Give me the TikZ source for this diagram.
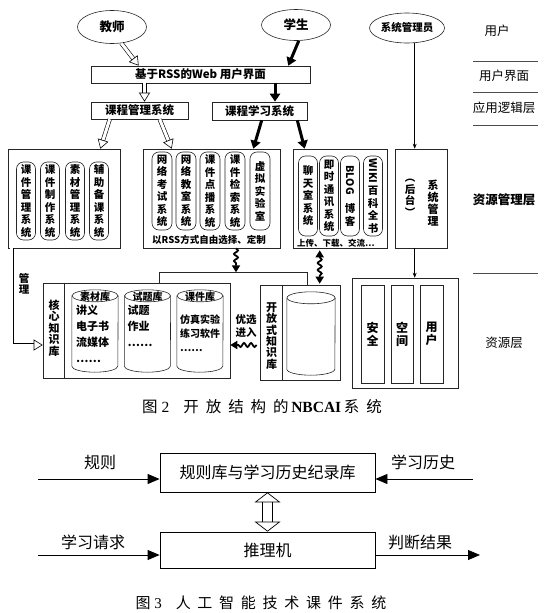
\documentclass[tikz,border=0pt]{standalone}
\usepackage{fontspec}
\setmainfont{Liberation Serif}
\newfontfamily\hei{Noto Sans CJK SC}
\newfontfamily\song[LetterSpace=45]{Noto Sans CJK SC}
\usetikzlibrary{arrows.meta,positioning,calc,shapes.geometric,decorations.pathmorphing}

\tikzset{
  gbox/.style={draw=black!85, line width=0.6pt, inner sep=0pt},
  tbox/.style={gbox, font=\hei\bfseries\fontsize{11.5}{13}\selectfont},
  person/.style={ellipse, draw=black!85, line width=0.6pt, inner sep=0pt, font=\hei\bfseries\fontsize{12.5}{14}\selectfont},
  pill/.style={draw=black!85, line width=0.6pt, rounded corners=7pt, minimum width=19pt, minimum height=78pt, inner sep=0pt, align=center, font=\hei\bfseries\fontsize{10.5}{12.5}\selectfont},
  vtxt/.style={align=center, inner sep=0pt, font=\hei\bfseries\fontsize{10.5}{11.5}\selectfont},
  lay/.style={inner sep=0pt, font=\hei\fontsize{12.5}{14}\selectfont},
  dbslot/.style={minimum width=46pt, minimum height=82pt, inner sep=0pt},
  dbtop/.style={inner sep=0pt, font=\hei\bfseries\fontsize{10}{11}\selectfont},
  dblist/.style={anchor=north west, align=left, inner sep=0pt, font=\hei\bfseries\fontsize{11}{16}\selectfont},
  hollow/.style={double=white, double distance=3pt, line width=0.6pt, -{Triangle[open,length=9pt,width=11pt]}},
  heavy/.style={line width=3pt, -{Triangle[length=8pt,width=10pt]}},
  wavy/.style={line width=1.8pt, decorate, decoration={snake, amplitude=2pt, segment length=7pt, post length=7pt}, -{Triangle[length=7pt,width=8pt]}},
  wavytwo/.style={line width=1.8pt, decorate, decoration={snake, amplitude=2pt, segment length=7pt, pre length=7pt, post length=7pt}, {Triangle[length=7pt,width=8pt]}-{Triangle[length=7pt,width=8pt]}},
  thinarr/.style={line width=0.6pt, -{Stealth[length=5pt,width=4pt]}},
  blk/.style={draw, line width=0.8pt, minimum width=215pt, inner sep=0pt, font=\hei\fontsize{16}{18}\selectfont},
  flow/.style={line width=0.8pt, -{Triangle[length=12pt,width=10pt]}},
  twoway/.style={double=white, double distance=9pt, line width=0.7pt, {Triangle[open,length=10pt,width=26pt]}-{Triangle[open,length=10pt,width=26pt]}},
  lbl/.style={inner sep=0pt, font=\hei\fontsize{16}{18}\selectfont}
}

% drum outline round a placeholder node: #1 node, #2 half width
\newcommand{\dbdrum}[2]{%
  \draw[line width=0.6pt, black!85] ($(#1.north west)+(0,6)$) -- ($(#1.south west)+(0,-6)$)
    arc[start angle=180, end angle=0, x radius=#2, y radius=6] -- ($(#1.north east)+(0,6)$);
  \draw[line width=0.6pt, black!85] ($(#1.north)+(0,6)$) ellipse [x radius=#2, y radius=6];
}

\begin{document}
\begin{tikzpicture}[x=1pt,y=-1pt]
\useasboundingbox (0,0) rectangle (550,613);

% users
\node[person, minimum width=69pt, minimum height=33pt] (teacher) at (112,27) {教师};
\node[person, minimum width=69pt, minimum height=31pt] (student) at (296,25) {学生};
\node[person, minimum width=75pt, minimum height=30pt, font=\hei\bfseries\fontsize{10.5}{12}\selectfont] (admin) at (407,28) {系统管理员};

% interface and logic
\node[tbox, minimum width=219pt, minimum height=17pt] (web) at (200.5,74.5) {基于RSS的Web 用户界面};
\node[tbox, minimum width=97pt, minimum height=17pt] (cms) at (139.5,110.5) {课程管理系统};
\node[tbox, minimum width=95pt, minimum height=18pt] (cls) at (259.5,111) {课程学习系统};

% resource management
\node[gbox, minimum width=112pt, minimum height=99pt] (lbox) at (64,198.5) {};
\node[gbox, minimum width=137pt, minimum height=99pt] (mbox) at (211.5,198.5) {};
\node[gbox, minimum width=94pt, minimum height=99pt] (rbox) at (340,198.5) {};
\node[gbox, minimum width=52pt, minimum height=99pt] (sbox) at (421,198.5) {};

\node[pill] (kjgl) at (26,201) {课\\件\\管\\理\\系\\统};
\node[pill] (kjzz) at (50,201) {课\\件\\制\\作\\系\\统};
\node[pill] (scgl) at (75,201) {素\\材\\管\\理\\系\\统};
\node[pill] (fzbk) at (99,201) {辅\\助\\备\\课\\系\\统};

\node[pill, minimum width=20pt] (wlks) at (162,191) {网\\络\\考\\试\\系\\统};
\node[pill, minimum width=20pt] (wljs) at (186,191) {网\\络\\教\\室\\系\\统};
\node[pill, minimum width=20pt] (kjdb) at (210,191) {课\\件\\点\\播\\系\\统};
\node[pill, minimum width=20pt] (kjjs) at (235,191) {课\\件\\检\\索\\系\\统};
\node[pill, minimum width=20pt] (xnsy) at (260,191) {虚\\拟\\实\\验\\室};
\node[inner sep=0pt, font=\hei\bfseries\fontsize{9.5}{11}\selectfont] (rssnote) at (209,240) {以RSS方式自由选择、定制};

\node[pill, minimum height=80pt] (ltsx) at (308,196) {聊\\天\\室\\系\\统};
\node[pill, minimum height=80pt] (jstx) at (329,196) {即\\时\\通\\讯\\系\\统};
\node[pill, minimum height=80pt] (blog) at (350,196) {\rotatebox{-90}{BLOG}\\[8pt]博\\客};
\node[pill, minimum height=80pt] (wiki) at (373,196) {\rotatebox{-90}{WIKI}\\[2pt]百\\科\\全\\书};
\node[inner sep=0pt, font=\hei\bfseries\fontsize{8.5}{10}\selectfont] (rbnote) at (336,243) {上传、下载、交流…};

\node[vtxt, font=\hei\bfseries\fontsize{11}{12}\selectfont] (sysm) at (433,203) {系\\统\\管\\理};
\node[vtxt] (houtai) at (410,198) {︵\\后\\台\\︶};

% knowledge bases
\node[gbox, minimum width=187pt, minimum height=95pt] (kbox) at (136.5,330.5) {};
\draw[line width=0.6pt, black!85] ($(kbox.north west)+(22,0)$) -- ($(kbox.south west)+(22,0)$);
\node[vtxt, font=\hei\bfseries\fontsize{11}{11.5}\selectfont] (kname) at (54,328) {核\\心\\知\\识\\库};
\node[dbslot] (sck) at (95,331) {};
\dbdrum{sck}{23}
\node[dbtop] (scklab) at ($(sck.north)+(0,7)$) {素材库};
\node[dblist] (sckls) at ($(sck.north)+(-19,15)$) {讲义\\电子书\\流媒体\\……};
\node[dbslot] (stk) at (147.5,331) {};
\dbdrum{stk}{23}
\node[dbtop] (stklab) at ($(stk.north)+(0,7)$) {试题库};
\node[dblist] (stkls) at ($(stk.north)+(-20,15)$) {试题\\作业\\……};
\node[dbslot] (kjk) at (200,331) {};
\dbdrum{kjk}{23}
\node[dbtop] (kjklab) at ($(kjk.north)+(0,7)$) {课件库};
\node[dblist, font=\hei\bfseries\fontsize{10}{14}\selectfont] (kjkls) at ($(kjk.north)+(-20,25)$) {仿真实验\\练习软件\\……};

\node[gbox, minimum width=80pt, minimum height=95pt] (okbox) at (300,332.5) {};
\draw[line width=0.6pt, black!85] ($(okbox.north west)+(23,0)$) -- ($(okbox.south west)+(23,0)$);
\node[vtxt, font=\hei\bfseries\fontsize{11}{11.3}\selectfont] (okname) at (271.5,336) {开\\放\\式\\知\\识\\库};
\node[dbslot, minimum width=48pt, minimum height=83pt] (okdb) at (311,333.5) {};
\dbdrum{okdb}{24}

\node[gbox, minimum width=106pt, minimum height=110pt] (rsbox) at (405,333) {};
\node[gbox, minimum width=23pt, minimum height=98pt, align=center, font=\hei\bfseries\fontsize{12}{13}\selectfont] (anq) at (372.5,334) {安\\全};
\node[gbox, minimum width=22pt, minimum height=98pt, align=center, font=\hei\bfseries\fontsize{12}{13}\selectfont] (kjn) at (402,334) {空\\间};
\node[gbox, minimum width=23pt, minimum height=98pt, align=center, font=\hei\bfseries\fontsize{12}{13}\selectfont] (yhu) at (431.5,334) {用\\户};

% layers
\node[lay] (lyh) at (497,31) {用户};
\node[lay] (ljm) at (504,76) {用户界面};
\node[lay] (lyy) at (504,108) {应用逻辑层};
\node[lay, font=\hei\bfseries\fontsize{12.5}{14}\selectfont] (lzg) at (504,200) {资源管理层};
\node[lay] (lzy) at (504,343) {资源层};
\foreach \y in {61,92,125,273}
  \draw[line width=0.5pt, black!70] (473,\y) -- (538,\y);

% connectors
\draw[hollow] (teacher.-60) -- ($(web.north west)+(48,0)$);
\draw[heavy] (student.-80) -- ($(web.north east)+(-22,0)$);
\draw[hollow] ($(cms.north)+(5,-19)$) -- ($(cms.north)+(5,0)$);
\draw[heavy] ($(cls.north)+(15.5,-19)$) -- ($(cls.north)+(15.5,0)$);
\draw[hollow] ($(cms.south west)+(19,0)$) -- ($(lbox.north east)+(-20,0)$);
\draw[hollow] ($(cms.south west)+(69,0)$) -- ($(mbox.north west)+(29,0)$);
\draw[heavy] ($(cls.south west)+(50,0)$) -- ($(mbox.north east)+(-27,0)$);
\draw[heavy] ($(cls.south east)+(-10,0)$) -- ($(rbox.north west)+(12,0)$);
\coordinate (admx) at ($(sbox.north west)+(20,0)$);
\draw[thinarr] (admin.south -| admx) -- (admx);
\draw[thinarr] (sbox.south -| admx) -- (rsbox.north -| admx);

\draw[hollow] ($(lbox.south west)+(4,0)$) |- ($(kbox.west)+(0,14.5)$);
\node[vtxt] (mgl) at (24,284) {管\\理};

\coordinate (feed) at ($(mbox.south)+(24.5,24)$);
\draw[line width=0.6pt, black!85] ($(kbox.north west)+(117,0)$) |- (feed) -| ($(okbox.north west)+(48,0)$);
\draw[wavy] (mbox.south -| feed) -- (feed);
\draw[wavytwo] ($(rbox.south west)+(27,2)$) -- ($(okbox.north west)+(60,-1)$);
\node[vtxt, font=\hei\bfseries\fontsize{10.5}{13}\selectfont] (yxjr) at (246,326) {优选\\进入};
\draw[wavy] ($(okbox.west)+(-3,12.5)$) -- ($(kbox.east)+(0,14.5)$);

\node[inner sep=0pt, font=\fontsize{15.5}{17}\selectfont] (cap2) at (262,407)
  {{\song 图}\ 2\hspace{14pt}{\song 开放结构的}\,\textbf{NBCAI}\,{\song 系统}};

% figure 3
\node[blk, minimum height=39pt] (rules) at (267.5,472.5) {规则库与学习历史纪录库};
\node[blk, minimum height=36pt] (infer) at (267.5,550) {推理机};
\draw[twoway] (rules) -- (infer);
\coordinate (rin) at (38,479);
\coordinate (hin) at (473,479);
\coordinate (qin) at (38,555);
\coordinate (rout) at (480,555);
\draw[flow] (rin) -- (rin -| rules.west);
\draw[flow] (hin) -- (hin -| rules.east);
\draw[flow] (qin) -- (qin -| infer.west);
\draw[flow] (infer.east |- rout) -- (rout);
\node[lbl] (lgz) at (100,462) {规则};
\node[lbl] (lls) at (423,462) {学习历史};
\node[lbl] (lqq) at (93,542) {学习请求};
\node[lbl] (ljg) at (420,542) {判断结果};

\node[inner sep=0pt, font=\fontsize{15}{17}\selectfont] (cap3) at (261,603)
  {{\song 图}\ 3\hspace{14pt}{\song 人工智能技术课件系统}};
\end{tikzpicture}
\end{document}
